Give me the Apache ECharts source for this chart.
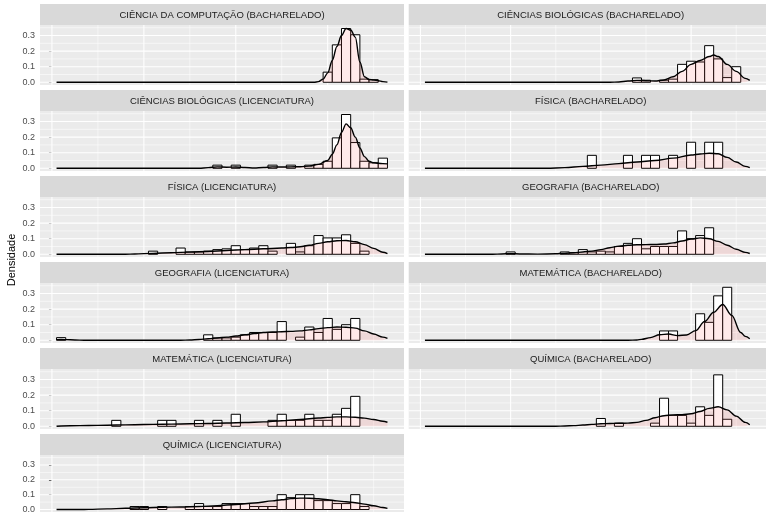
<!DOCTYPE html>
<html><head><meta charset="utf-8">
<script src="https://cdn.jsdelivr.net/npm/echarts@6/dist/echarts.min.js"></script>
<style>html,body{margin:0;padding:0;background:#fff}#c{width:766px;height:514px}</style>
</head><body><div id="c"></div>
<script>
// ---- data ----
const PANEL_TITLES = [
  'CIÊNCIA DA COMPUTAÇÃO (BACHARELADO)', 'CIÊNCIAS BIOLÓGICAS (BACHARELADO)',
  'CIÊNCIAS BIOLÓGICAS (LICENCIATURA)', 'FÍSICA (BACHARELADO)',
  'FÍSICA (LICENCIATURA)', 'GEOGRAFIA (BACHARELADO)',
  'GEOGRAFIA (LICENCIATURA)', 'MATEMÁTICA (BACHARELADO)',
  'MATEMÁTICA (LICENCIATURA)', 'QUÍMICA (BACHARELADO)',
  'QUÍMICA (LICENCIATURA)'
];
const BIN_WIDTH = 1;
const Y_TICKS = [0, 0.1, 0.2, 0.3];
const Y_MINOR = [0.05, 0.15, 0.25, 0.35];
const X_MAJOR = [0, 10, 20, 30];
const X_MINOR = [5, 15, 25, 35];

// histogram bars: [bin centre, density]
const HIST_1 = [[30,0.065],[31,0.24],[32,0.345],[33,0.305],[34,0.02],[35,0.017]];
const HIST_2 = [[24,0.028],[25,0.013],[27,0.013],[28,0.02],[29,0.115],[30,0.135],[31,0.13],[32,0.235],[33,0.15],[34,0.03],[35,0.1]];
const HIST_3 = [[18,0.02],[20,0.02],[24,0.02],[26,0.02],[28,0.02],[29,0.025],[30,0.045],[31,0.195],[32,0.345],[33,0.165],[34,0.045],[35,0.035],[36,0.065]];
const HIST_4 = [[19,0.083],[23,0.083],[25,0.083],[26,0.083],[28,0.083],[30,0.167],[32,0.167],[33,0.167]];
const HIST_5 = [[11,0.02],[14,0.04],[15,0.015],[16,0.015],[17,0.02],[18,0.03],[19,0.035],[20,0.055],[21,0.03],[22,0.04],[23,0.055],[24,0.02],[26,0.07],[27,0.015],[28,0.055],[29,0.12],[30,0.105],[31,0.105],[32,0.125],[33,0.07],[34,0.02]];
const HIST_6 = [[10,0.015],[16,0.015],[17,0.01],[18,0.03],[19,0.015],[20,0.02],[21,0.015],[22,0.05],[23,0.07],[24,0.1],[25,0.035],[26,0.05],[27,0.05],[28,0.05],[29,0.15],[30,0.1],[31,0.12],[32,0.17]];
const HIST_7 = [[1,0.017],[17,0.035],[18,0.015],[19,0.015],[20,0.02],[21,0.035],[22,0.05],[23,0.05],[24,0.05],[25,0.12],[27,0.02],[28,0.085],[29,0.05],[30,0.14],[31,0.07],[32,0.1],[33,0.14]];
const HIST_8 = [[27,0.06],[28,0.06],[31,0.17],[32,0.115],[33,0.285],[34,0.34]];
const HIST_9 = [[7,0.038],[12,0.038],[13,0.038],[16,0.038],[18,0.038],[20,0.077],[24,0.038],[25,0.077],[26,0.038],[27,0.038],[28,0.077],[29,0.038],[30,0.038],[31,0.077],[32,0.115],[33,0.192]];
const HIST_10 = [[20,0.05],[22,0.02],[26,0.02],[27,0.18],[28,0.07],[29,0.07],[30,0.02],[31,0.125],[32,0.07],[33,0.33],[34,0.045]];
const HIST_11 = [[9,0.02],[10,0.02],[12,0.02],[15,0.02],[16,0.04],[17,0.02],[18,0.02],[19,0.04],[20,0.04],[21,0.04],[22,0.02],[23,0.02],[24,0.02],[25,0.1],[26,0.08],[27,0.1],[28,0.1],[29,0.06],[30,0.06],[31,0.04],[32,0.04],[33,0.1],[34,0.02]];

// density curves: [x, density]
const DENS_1 = [[0.5,0],[28.5,0],[29,0.004],[29.5,0.02],[30,0.06],[30.5,0.14],[31,0.23],[31.5,0.3],[32,0.345],[32.5,0.335],[33,0.29],[33.5,0.13],[34,0.035],[34.5,0.018],[35,0.014],[35.5,0.01],[36,0.004],[36.5,0.001]];
const DENS_2 = [[0.5,0],[21,0],[22,0.002],[23,0.008],[24,0.012],[25,0.01],[26,0.008],[27,0.015],[28,0.035],[29,0.07],[30,0.115],[31,0.14],[32,0.165],[32.5,0.175],[33,0.165],[34,0.115],[35,0.07],[36,0.025],[36.5,0.012]];
const DENS_3 = [[0.5,0],[16,0],[17,0.004],[18,0.009],[19,0.007],[20,0.008],[21,0.005],[22,0.002],[23,0.005],[24,0.009],[25,0.008],[26,0.009],[27,0.01],[28,0.014],[29,0.025],[30,0.05],[30.5,0.09],[31,0.15],[31.5,0.23],[32,0.285],[32.5,0.26],[33,0.2],[33.5,0.13],[34,0.075],[34.5,0.045],[35,0.035],[35.5,0.032],[36,0.03],[36.5,0.028]];
const DENS_4 = [[0.5,0],[14,0],[16,0.004],[18,0.012],[20,0.02],[22,0.03],[24,0.04],[26,0.05],[28,0.065],[30,0.085],[31,0.092],[32,0.096],[33,0.093],[34,0.07],[35,0.04],[36,0.012],[36.5,0.004]];
const DENS_5 = [[0.5,0],[8,0],[9,0.002],[11,0.006],[13,0.01],[15,0.014],[17,0.018],[19,0.024],[21,0.03],[23,0.035],[25,0.04],[26,0.043],[27,0.048],[28,0.058],[29,0.07],[30,0.08],[31,0.087],[32,0.088],[33,0.08],[34,0.062],[35,0.038],[36,0.013],[36.5,0.004]];
const DENS_6 = [[0.5,0],[8,0],[9,0.002],[10,0.004],[11,0.002],[13,0.001],[15,0.003],[16,0.006],[17,0.01],[18,0.015],[19,0.02],[20,0.03],[21,0.042],[22,0.052],[23,0.058],[24,0.061],[25,0.062],[26,0.063],[27,0.066],[28,0.073],[29,0.085],[30,0.098],[31,0.105],[32,0.1],[33,0.083],[34,0.058],[35,0.032],[36,0.012],[36.5,0.005]];
const DENS_7 = [[0.5,0.004],[1,0.005],[2,0.003],[3,0.001],[4,0],[14,0],[15,0.002],[16,0.005],[17,0.01],[18,0.015],[19,0.02],[20,0.027],[21,0.035],[22,0.043],[23,0.05],[24,0.053],[25,0.055],[26,0.057],[27,0.06],[28,0.067],[29,0.075],[30,0.081],[31,0.085],[32,0.084],[33,0.078],[34,0.06],[35,0.04],[36,0.02],[36.5,0.012]];
const DENS_8 = [[0.5,0],[23,0],[24,0.002],[24.5,0.006],[25.5,0.017],[26.5,0.035],[27.5,0.04],[28.5,0.03],[29.5,0.034],[30.5,0.062],[31.5,0.12],[32.5,0.18],[33.5,0.23],[34.5,0.16],[35.5,0.05],[36,0.025],[36.5,0.01]];
const DENS_9 = [[0.5,0],[1,0.002],[3,0.004],[5,0.006],[7,0.008],[9,0.01],[11,0.012],[13,0.014],[15,0.016],[17,0.018],[19,0.021],[21,0.024],[23,0.028],[25,0.035],[27,0.044],[29,0.053],[30,0.057],[31,0.06],[32,0.06],[33,0.058],[34,0.052],[35,0.043],[36,0.032],[36.5,0.026]];
const DENS_10 = [[0.5,0],[15,0],[16,0.002],[17,0.004],[18,0.008],[19,0.012],[20,0.016],[21,0.018],[22,0.019],[23,0.02],[24,0.025],[25,0.038],[26,0.055],[27,0.068],[28,0.073],[29,0.074],[30,0.08],[31,0.095],[32,0.115],[33,0.125],[34,0.105],[35,0.065],[36,0.025],[36.5,0.01]];
const DENS_11 = [[0.5,0],[3,0],[4,0.001],[6,0.004],[8,0.008],[10,0.012],[12,0.015],[14,0.017],[16,0.02],[18,0.026],[20,0.034],[22,0.044],[24,0.058],[25,0.066],[26,0.073],[27,0.077],[28,0.076],[29,0.072],[30,0.066],[31,0.058],[32,0.052],[33,0.046],[34,0.036],[35,0.025],[36,0.013],[36.5,0.008]];

const HISTS = [HIST_1,HIST_2,HIST_3,HIST_4,HIST_5,HIST_6,HIST_7,HIST_8,HIST_9,HIST_10,HIST_11];
const DENSS = [DENS_1,DENS_2,DENS_3,DENS_4,DENS_5,DENS_6,DENS_7,DENS_8,DENS_9,DENS_10,DENS_11];

// ---- layout ----
const X_RANGE = [-1.3, 38.3];
const Y_RANGE = [-0.0175, 0.3675];
const COL_LEFT = [40, 408.7];
const PANEL_W = 364;
const ROW_PITCH = 86, TOP0 = 4, STRIP_H = 21, PLOT_H = 60;
const FONT = '"Liberation Sans", Arial, sans-serif';

const chart = echarts.init(document.getElementById('c'), null, {renderer: 'canvas'});
const grids = [], xAxes = [], yAxes = [], series = [], graphics = [];

const gridData = [];
X_MAJOR.forEach(v => gridData.push([0, v]));
X_MINOR.forEach(v => gridData.push([1, v]));
Y_TICKS.forEach(v => gridData.push([2, v]));
Y_MINOR.forEach(v => gridData.push([3, v]));

PANEL_TITLES.forEach((title, i) => {
  const col = i % 2, row = Math.floor(i / 2);
  const left = COL_LEFT[col];
  const stripTop = TOP0 + row * ROW_PITCH;
  const top = stripTop + STRIP_H;
  grids.push({left: left, top: top, width: PANEL_W, height: PLOT_H,
    show: true, backgroundColor: '#ebebeb', borderWidth: 0, containLabel: false});
  xAxes.push({type: 'value', gridIndex: i, min: X_RANGE[0], max: X_RANGE[1],
    axisLine: {show: false}, axisTick: {show: false}, axisLabel: {show: false}, splitLine: {show: false}});
  yAxes.push({type: 'value', gridIndex: i, min: Y_RANGE[0], max: Y_RANGE[1],
    axisLine: {show: false},
    axisTick: {show: col === 0, length: 3, lineStyle: {color: '#333', width: 1}, customValues: Y_TICKS},
    axisLabel: {show: col === 0, customValues: Y_TICKS, formatter: v => v.toFixed(1),
      color: '#4d4d4d', fontSize: 9, fontFamily: FONT, margin: 5},
    splitLine: {show: false}});
  // panel grid lines
  series.push({type: 'custom', xAxisIndex: i, yAxisIndex: i, z: 1, silent: true,
    data: gridData,
    renderItem: (params, api) => {
      const kind = api.value(0), v = api.value(1);
      const cs = params.coordSys;
      const w = (kind === 0 || kind === 2) ? 1.05 : 0.55;
      if (kind < 2) {
        const x = api.coord([v, 0])[0];
        return {type: 'line', shape: {x1: x, y1: cs.y, x2: x, y2: cs.y + cs.height},
          style: {stroke: '#ffffff', lineWidth: w}};
      }
      const y = api.coord([0, v])[1];
      return {type: 'line', shape: {x1: cs.x, y1: y, x2: cs.x + cs.width, y2: y},
        style: {stroke: '#ffffff', lineWidth: w}};
    }});
  // histogram
  series.push({type: 'custom', xAxisIndex: i, yAxisIndex: i, z: 2, silent: true,
    data: HISTS[i],
    renderItem: (params, api) => {
      const v = api.value(0), h = api.value(1);
      const p0 = api.coord([v - BIN_WIDTH / 2, h]);
      const p1 = api.coord([v + BIN_WIDTH / 2, 0]);
      return {type: 'rect', shape: {x: p0[0], y: p0[1], width: p1[0] - p0[0], height: p1[1] - p0[1]},
        style: {fill: '#ffffff', stroke: '#000000', lineWidth: 1}};
    }});
  // density
  series.push({type: 'line', xAxisIndex: i, yAxisIndex: i, z: 3, silent: true,
    data: DENSS[i], smooth: 0.35, smoothMonotone: 'x', showSymbol: false, symbol: 'none',
    lineStyle: {color: '#000000', width: 1.4},
    areaStyle: {color: 'rgba(255,102,102,0.2)', origin: 'auto'}});
  // strip
  graphics.push({type: 'rect', shape: {x: left, y: stripTop, width: PANEL_W, height: STRIP_H},
    style: {fill: '#d9d9d9'}, silent: true});
  graphics.push({type: 'text', x: left + PANEL_W / 2, y: stripTop + STRIP_H / 2 + 0.5,
    style: {text: title, fill: '#1a1a1a', font: '9.5px ' + FONT, align: 'center', verticalAlign: 'middle'},
    silent: true});
});

graphics.push({type: 'text', x: 12, y: 260, rotation: Math.PI / 2,
  style: {text: 'Densidade', fill: '#000000', font: '11px ' + FONT, align: 'center', verticalAlign: 'middle'},
  silent: true});

chart.setOption({
  animation: false,
  backgroundColor: '#ffffff',
  grid: grids, xAxis: xAxes, yAxis: yAxes, series: series,
  graphic: {elements: graphics}
});
</script>
</body></html>
